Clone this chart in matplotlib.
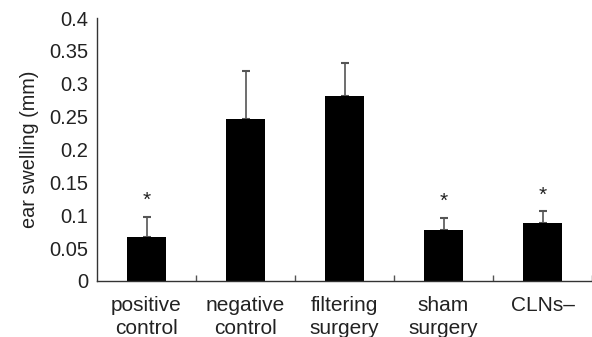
import matplotlib
matplotlib.use("Agg")
import matplotlib.pyplot as plt
import numpy as np

categories = ["positive\ncontrol", "negative\ncontrol", "filtering\nsurgery", "sham\nsurgery", "CLNs\u2013"]
means = [0.067, 0.247, 0.282, 0.077, 0.088]
errors = [0.031, 0.073, 0.050, 0.019, 0.018]
significant = [True, False, False, True, True]
yticks = [0, 0.05, 0.1, 0.15, 0.2, 0.25, 0.3, 0.35, 0.4]
ytick_labels = ["0", "0.05", "0.1", "0.15", "0.2", "0.25", "0.3", "0.35", "0.4"]

plt.rcParams['font.family'] = ['Liberation Sans', 'DejaVu Sans']

fig = plt.figure(figsize=(5.92, 3.37), dpi=100)
ax = fig.add_axes([97/592, 1 - 281/337, 1 - 97/592, (281 - 18)/337])

x = np.arange(len(categories))
ax.bar(x, means, width=0.4, color='black', zorder=2)
ax.errorbar(x, means, yerr=[np.zeros(len(means)), errors], fmt='none',
            ecolor='#555555', elinewidth=1.2, capsize=3, capthick=1.5, zorder=1)
for xi, m, e, s in zip(x, means, errors, significant):
    if s:
        ax.text(xi, m + e + 0.010, "*", ha='center', va='bottom', fontsize=15, color='#222222')

ax.set_xlim(-0.5, len(categories) - 0.5)
ax.set_ylim(0, 0.4)
ax.set_yticks(yticks)
ax.set_yticklabels(ytick_labels, fontsize=14.5, color='#222222')
ax.tick_params(axis='y', length=0, pad=6.5)
ax.set_xticks(x)
ax.set_xticklabels(categories, fontsize=15, linespacing=1.3, color='#222222')
ax.tick_params(axis='x', which='major', length=0, pad=10.5)
ax.set_xticks(np.arange(0.5, len(categories), 1.0), minor=True)
ax.tick_params(axis='x', which='minor', direction='in', length=4, width=1, color='#555555')
ax.set_ylabel("ear swelling (mm)", fontsize=14.3, labelpad=7, color='#222222')

for sp in ['top', 'right']:
    ax.spines[sp].set_visible(False)
for sp in ['left', 'bottom']:
    ax.spines[sp].set_linewidth(1.0)
    ax.spines[sp].set_color('#333333')

fig.savefig("out.png", dpi=100)
